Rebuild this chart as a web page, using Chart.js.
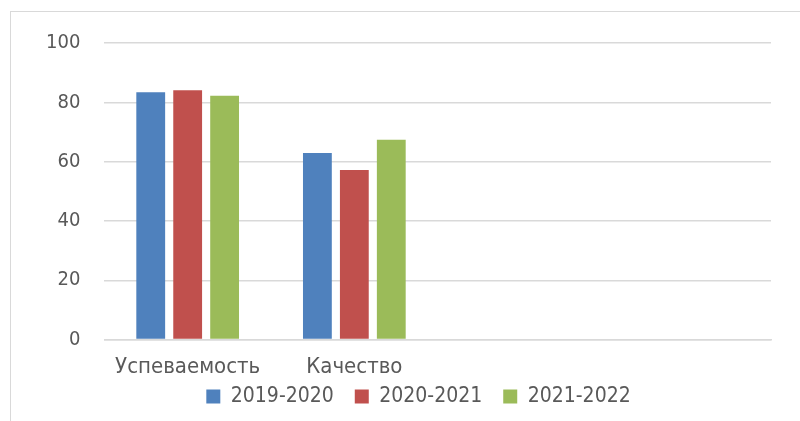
<!DOCTYPE html>
<html>
<head>
<meta charset="utf-8">
<script src="https://cdn.jsdelivr.net/npm/chart.js@4.4.0/dist/chart.umd.min.js"></script>
<style>
  html, body { margin: 0; padding: 0; background: #fff; }
  #wrap { position: relative; width: 800px; height: 421px; }
  #frame { position: absolute; left: 10px; top: 11px; width: 800px; height: 420px;
           border-left: 1px solid #d9d9d9; border-top: 1px solid #d9d9d9; }
  canvas { position: absolute; left: 0; top: 0; }
</style>
</head>
<body>
<div id="wrap">
  <div id="frame"></div>
  <canvas id="chart" width="800" height="421"></canvas>
</div>
<script>
// chart values
var categories = ['Успеваемость', 'Качество', '', ''];
var seriesNames = ['2019-2020', '2020-2021', '2021-2022'];
var values2019 = [83.4, 62.9];
var values2020 = [84.1, 57.2];
var values2021 = [82.2, 67.4];
var yTicks = [0, 20, 40, 60, 80, 100];

var colors = ['#4f81bd', '#c0504d', '#9bbb59'];
var font = "'DejaVu Sans Condensed', 'DejaVu Sans', sans-serif";
var textColor = '#595959';

// legend takes little room in the layout, then is pulled up under the labels
var legendFit = {
  id: 'legendFit',
  beforeLayout: function (chart) {
    var lg = chart.legend;
    if (lg && !lg._patched) {
      var fit = lg.fit;
      lg.fit = function () { fit.call(this); this.height = 24; };
      lg._patched = true;
    }
  },
  afterLayout: function (chart) {
    var lg = chart.legend;
    lg.top = 365;
    lg.bottom = chart.height;
    lg.height = lg.bottom - lg.top;
    lg.left += 22;
    lg.right += 22;
  }
};

var ctx = document.getElementById('chart').getContext('2d');
var chart = new Chart(ctx, {
  type: 'bar',
  data: {
    labels: categories,
    datasets: [
      { label: seriesNames[0], data: values2019, backgroundColor: colors[0] },
      { label: seriesNames[1], data: values2020, backgroundColor: colors[1] },
      { label: seriesNames[2], data: values2021, backgroundColor: colors[2] }
    ]
  },
  plugins: [legendFit],
  options: {
    responsive: false,
    animation: false,
    categoryPercentage: 0.665,
    barPercentage: 0.78,
    layout: { padding: { left: 22, right: 29, top: 43, bottom: 11 } },
    plugins: {
      legend: {
        position: 'bottom',
        labels: {
          boxWidth: 14, boxHeight: 14, padding: 21,
          color: textColor,
          font: { family: font, size: 21 }
        }
      },
      tooltip: { enabled: false }
    },
    scales: {
      x: {
        grid: { display: false },
        border: { color: '#d9d9d9', width: 1.5 },
        ticks: { color: textColor, font: { family: font, size: 22 }, padding: 6 }
      },
      y: {
        min: 0, max: 100,
        afterBuildTicks: function (axis) {
          axis.ticks = yTicks.map(function (v) { return { value: v }; });
        },
        grid: { color: '#d9d9d9', lineWidth: 1.5, drawTicks: false },
        border: { display: false },
        ticks: { color: textColor, font: { family: font, size: 20 }, padding: 24 }
      }
    }
  }
});
</script>
</body>
</html>
